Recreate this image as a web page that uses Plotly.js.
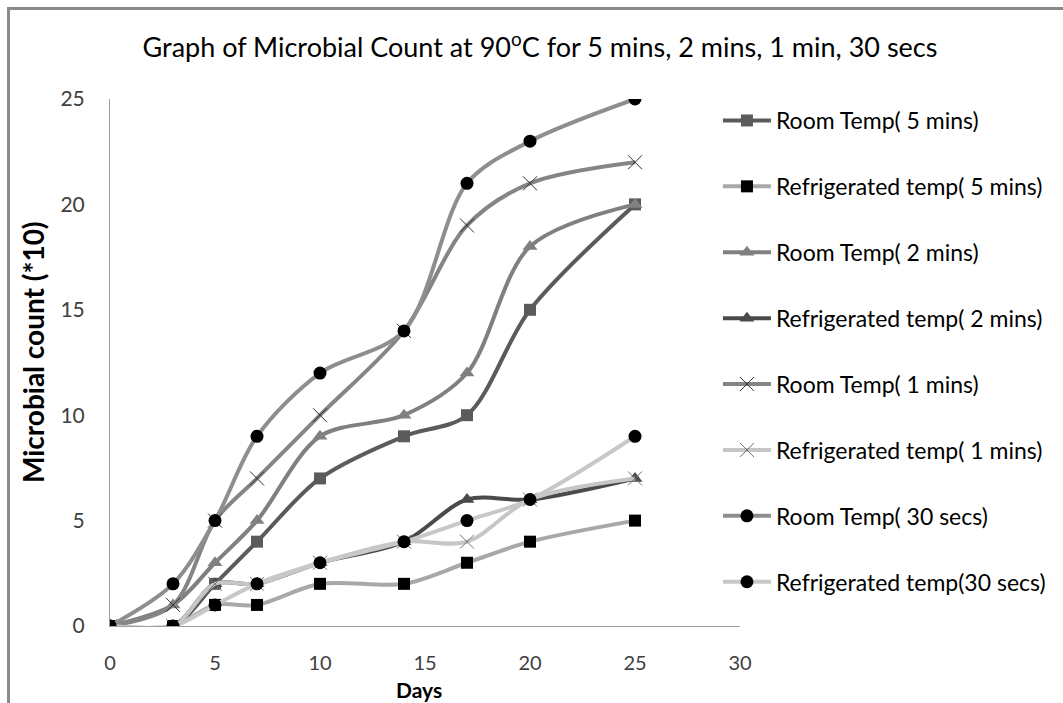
<!DOCTYPE html>
<html>
<head>
<meta charset="utf-8">
<script src="https://cdn.plot.ly/plotly-3.0.1.min.js"></script>
<style>
html,body{margin:0;padding:0;background:#fff;overflow:hidden;}
#frame{position:absolute;left:7px;top:7px;width:1200px;height:900px;border-left:3px solid #8a8a8a;border-top:3px solid #8a8a8a;}
#chart{position:absolute;left:0;top:0;width:1063px;height:703px;}
</style>
</head>
<body>
<div id="frame"></div>
<div id="chart"></div>
<script>
const days = [0, 3, 5, 7, 10, 14, 17, 20, 25];
const seriesNames = [
  "Room Temp( 5 mins)",
  "Refrigerated temp( 5 mins)",
  "Room Temp( 2 mins)",
  "Refrigerated temp( 2 mins)",
  "Room Temp( 1 mins)",
  "Refrigerated temp( 1 mins)",
  "Room Temp( 30 secs)",
  "Refrigerated temp(30 secs)"
];
const room5 = [0, 0, 2, 4, 7, 9, 10, 15, 20];
const fridge5 = [0, 0, 1, 1, 2, 2, 3, 4, 5];
const room2 = [0, 1, 3, 5, 9, 10, 12, 18, 20];
const fridge2 = [0, 0, 2, 2, 3, 4, 6, 6, 7];
const room1 = [0, 1, 5, 7, 10, 14, 19, 21, 22];
const fridge1 = [0, 0, 2, 2, 3, 4, 4, 6, 7];
const room30 = [0, 2, 5, 9, 12, 14, 21, 23, 25];
const fridge30 = [0, 0, 1, 2, 3, 4, 5, 6, 9];
const xTicks = [0, 5, 10, 15, 20, 25, 30];
const yTicks = [0, 5, 10, 15, 20, 25];

const styles = [
  {line:'#5b5b5b', sym:'square', mc:'#5b5b5b', ms:12, mlw:0},
  {line:'#a8a8a8', sym:'square', mc:'#000000', ms:12, mlw:0},
  {line:'#808080', sym:'triangle-up', mc:'#808080', ms:13, mlw:0},
  {line:'#4a4a4a', sym:'triangle-up', mc:'#4a4a4a', ms:13, mlw:0},
  {line:'#858585', sym:'x-thin-open', mc:'#303030', ms:14, mlw:1},
  {line:'#c6c6c6', sym:'x-thin-open', mc:'#707070', ms:14, mlw:1},
  {line:'#8e8e8e', sym:'circle', mc:'#000000', ms:13, mlw:0},
  {line:'#c8c8c8', sym:'circle', mc:'#000000', ms:13, mlw:0}
];
const values = [room5, fridge5, room2, fridge2, room1, fridge1, room30, fridge30];

const traces = values.map((v, i) => {
  const s = styles[i];
  return {
    x: days, y: v, name: seriesNames[i], type: 'scatter', mode: 'lines+markers',
    legendgroup: 'g' + i,
    line: {color: s.line, width: 4, shape: 'spline', smoothing: 0.9},
    marker: {symbol: s.sym, size: s.ms, color: s.mc,
             line: {color: s.mc, width: s.mlw}}
  };
});

const font = 'Lato, "Open Sans", "DejaVu Sans", sans-serif';
const layout = {
  width: 1063, height: 703,
  paper_bgcolor: 'rgba(0,0,0,0)', plot_bgcolor: 'rgba(0,0,0,0)',
  margin: {l: 110, r: 323, t: 99, b: 77},
  font: {family: font, size: 21, color: '#404040'},
  title: {text: 'Graph of Microbial Count at 90<sup>o</sup>C for 5 mins, 2 mins, 1 min, 30 secs',
          font: {family: font, size: 27, color: '#000'}, x: 0.508, xref: 'container', xanchor: 'center',
          y: 0.932, yref: 'container', yanchor: 'middle'},
  showlegend: true,
  legend: {x: 0.965, xanchor: 'left', y: 1.0, yanchor: 'top', tracegroupgap: 33, itemwidth: 48,
           maxheight: 690,
           font: {family: font, size: 23, color: '#000'}, bgcolor: 'rgba(0,0,0,0)'},
  xaxis: {range: [0, 30], tickvals: xTicks, ticktext: xTicks.map(String), showgrid: false, zeroline: false,
          showline: true, linecolor: '#a0a0a0', linewidth: 1, ticks: '', ticklabelstandoff: 19,
          tickfont: {family: font, size: 20, color: '#404040'}},
  yaxis: {range: [0, 25], tickvals: yTicks, ticktext: yTicks.map(String), showgrid: false, zeroline: false,
          showline: true, linecolor: '#a0a0a0', linewidth: 1, ticks: '', ticklabelstandoff: 20,
          tickfont: {family: font, size: 21, color: '#404040'}},
  annotations: [
    {text: '<b>Microbial count (*10)</b>', xref: 'paper', yref: 'paper', x: -0.122, y: 0.52,
     textangle: -90, showarrow: false, xanchor: 'center', yanchor: 'middle',
     font: {family: font, size: 28, color: '#000'}},
    {text: '<b>Days</b>', xref: 'paper', yref: 'paper', x: 0.49, y: -0.12,
     showarrow: false, xanchor: 'center', yanchor: 'middle',
     font: {family: font, size: 21, color: '#000'}}
  ]
};
Plotly.newPlot('chart', traces, layout, {displayModeBar: false, staticPlot: true});
</script>
</body>
</html>
